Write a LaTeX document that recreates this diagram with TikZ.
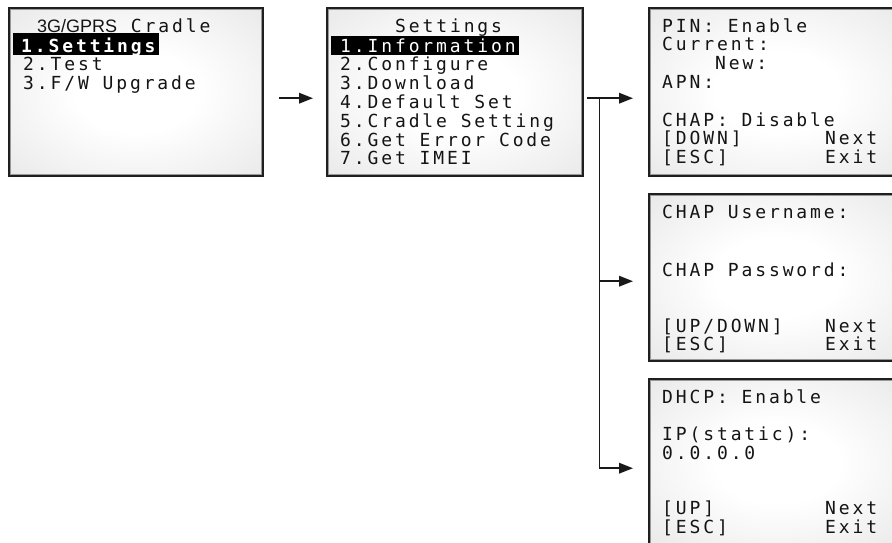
\documentclass[tikz,border=0pt]{standalone}
\usepackage{fontspec}
\newfontfamily\lcd{DejaVu Sans Mono}[LetterSpace=16]
\newfontfamily\arialf{Liberation Sans}
\usetikzlibrary{arrows.meta}
\pgfdeclareradialshading{lcdshade}{\pgfpoint{0bp}{0bp}}{color(0bp)=(white); color(12bp)=(white); color(45bp)=(black!12); color(50bp)=(black!14)}
\tikzset{
  screen/.style={draw=black!88, line width=2.4pt, shading=lcdshade,
    path picture={\draw[black!40, line width=4.4pt] (path picture bounding box.north west) rectangle (path picture bounding box.south east);},
    inner sep=0pt, anchor=north west, minimum width=#1},
  screen/.default=256pt,
  txt/.style={anchor=base west, inner sep=0pt, font=\lcd\fontsize{18}{18}\selectfont, text=black!92},
  hl/.style={txt, text=white},
  arr/.style={line width=1.8pt, draw=black!90, -{Triangle[length=14pt,width=10.5pt]}},
}
\begin{document}
\begin{tikzpicture}[x=1pt,y=-1pt]
\useasboundingbox[fill=white] (0,0) rectangle (892,542);
% screens
\node[screen=254pt, minimum height=168.5pt] (b1) at (8,6.5) {};
\node[screen=256pt, minimum height=168.5pt] (b2) at (326,6.5) {};
\node[screen=256pt, minimum height=168.5pt] (b3) at (648,6.5) {};
\node[screen=256pt, minimum height=167pt] (b4) at (648,193) {};
\node[screen=256pt, minimum height=168pt] (b5) at (648,378) {};
% screen 1
\fill[black] (13,33) rectangle (159,55);
\node[txt] (t1a) at (37,32) {{\arialf\fontsize{18}{18}\selectfont 3G/GPRS} Cradle};
\node[hl, font=\lcd\bfseries\fontsize{18}{18}\selectfont] (t1b) at (21,52) {1.Settings};
\node[txt] (t1c) at (23,70.5) {2.Test};
\node[txt] (t1d) at (23,89) {3.F/W Upgrade};
% screen 2
\fill[black] (331,36) rectangle (519,55);
\node[txt] (t2a) at (395,32) {Settings};
\node[hl] (t2b) at (340,52) {1.Information};
\node[txt] (t2c) at (340,70.8) {2.Configure};
\node[txt] (t2d) at (340,89.6) {3.Download};
\node[txt] (t2e) at (340,108.4) {4.Default Set};
\node[txt] (t2f) at (340,127.2) {5.Cradle Setting};
\node[txt] (t2g) at (340,146) {6.Get Error Code};
\node[txt] (t2h) at (340,164.8) {7.Get IMEI};
% screen 3
\node[txt] (t3a) at (662,32) {PIN: Enable};
\node[txt] (t3b) at (662,50.8) {Current:};
\node[txt] (t3c) at (715,69.6) {New:};
\node[txt] (t3d) at (662,88.4) {APN:};
\node[txt] (t3e) at (662,126) {CHAP: Disable};
\node[txt] (t3f) at (662,144.8) {[DOWN]};
\node[txt] (t3g) at (825,144.8) {Next};
\node[txt] (t3h) at (662,163.6) {[ESC]};
\node[txt] (t3i) at (825,163.6) {Exit};
% screen 4
\node[txt] (t4a) at (662,218) {CHAP Username:};
\node[txt] (t4b) at (662,276) {CHAP Password:};
\node[txt] (t4c) at (662,332) {[UP/DOWN]};
\node[txt] (t4d) at (825,332) {Next};
\node[txt] (t4e) at (662,350.5) {[ESC]};
\node[txt] (t4f) at (825,350.5) {Exit};
% screen 5
\node[txt] (t5a) at (662,403) {DHCP: Enable};
\node[txt] (t5b) at (662,440) {IP(static):};
\node[txt] (t5c) at (662,459.5) {0.0.0.0};
\node[txt] (t5d) at (662,514) {[UP]};
\node[txt] (t5e) at (825,514) {Next};
\node[txt] (t5f) at (662,533) {[ESC]};
\node[txt] (t5g) at (825,533) {Exit};
% connectors
\draw[arr] ([xshift=15pt,yshift=-6.25pt]b1.east) -- ([xshift=-13pt,yshift=-6.25pt]b2.west);
\draw[arr] ([xshift=3pt,yshift=-6.25pt]b2.east) -- ([xshift=-15pt,yshift=-6.25pt]b3.west);
\coordinate (j) at ([xshift=15pt,yshift=-6.25pt]b2.east);
\draw[arr] (j) |- ([xshift=-15pt,yshift=-3.5pt]b4.west);
\draw[arr] (j) |- ([xshift=-15pt,yshift=-5pt]b5.west);
\end{tikzpicture}
\end{document}
